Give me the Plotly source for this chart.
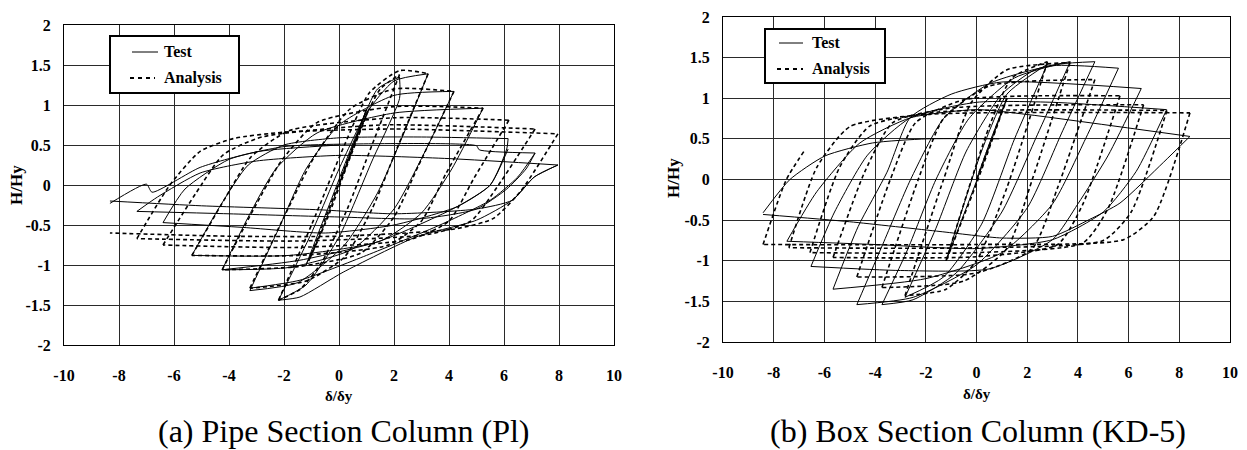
import plotly.graph_objects as go

# ---------------- tick labels ----------------
X_TICKS = [-10, -8, -6, -4, -2, 0, 2, 4, 6, 8, 10]
X_TICK_TEXT = ["-10", "-8", "-6", "-4", "-2", "0", "2", "4", "6", "8", "10"]
Y_TICKS = [-2, -1.5, -1, -0.5, 0, 0.5, 1, 1.5, 2]
Y_TICK_TEXT = ["-2", "-1.5", "-1", "-0.5", "0", "0.5", "1", "1.5", "2"]

# ---------------- (a) Pipe section column : Test (solid) ----------------
PIPE_TEST = [
    [(0, 0), (0.6, 0.55), (1.0, 0.95)],
    [(1.0, 0.95), (0.2, 0.2), (-0.6, -0.55), (-1.2, -1.0)],
    [(-1.2, -1.0), (-0.3, -0.2), (0.6, 0.6), (1.4, 1.2), (2.2, 1.35)],
    [(2.2, 1.35), (2.2, 1.08), (1.2, 0.3), (0.0, -0.65), (-1.2, -1.25), (-2.2, -1.44)],
    [(-2.2, -1.44), (-1.0, -0.6), (0.0, 0.2), (1.0, 0.9), (2.0, 1.3), (3.24, 1.39)],
    [(3.24, 1.39), (2.3, 0.6), (1.4, -0.1), (0.2, -0.75), (-1.5, -1.22), (-3.24, -1.32)],
    [(-3.24, -1.32), (-2.2, -0.55), (-1.2, 0.2), (0.0, 0.75), (2.0, 1.12), (4.18, 1.17)],
    [(4.18, 1.17), (3.1, 0.4), (2.0, -0.3), (0.5, -0.8), (-1.8, -1.03), (-4.25, -1.06)],
    [(-4.25, -1.06), (-3.3, -0.4), (-2.3, 0.2), (-0.8, 0.65), (2.0, 0.9), (5.24, 0.96)],
    [(5.24, 0.96), (4.1, 0.2), (3.0, -0.35), (1.5, -0.7), (-1.8, -0.88), (-5.35, -0.88)],
    [(-5.35, -0.88), (-4.3, -0.25), (-3.3, 0.25), (-2.0, 0.5), (0.0, 0.59), (3.0, 0.6), (6.15, 0.58)],
    [(6.15, 0.58), (6.1, 0.45), (5.5, 0.0), (4.3, -0.27), (2.0, -0.5), (-0.5, -0.6), (-3.5, -0.53), (-6.4, -0.47)],
    [(-6.4, -0.47), (-5.6, -0.05), (-4.0, 0.32), (-2.0, 0.48), (0.0, 0.51), (5.0, 0.49), (5.1, 0.44), (7.13, 0.40)],
    [(7.13, 0.40), (6.8, 0.2), (6.1, -0.05), (5.0, -0.3), (3.0, -0.42), (0.0, -0.4), (-4.0, -0.36), (-7.35, -0.33)],
    [(-7.35, -0.33), (-6.6, -0.15), (-5.05, 0.15), (-3.0, 0.3), (0.0, 0.37), (4.0, 0.33), (7.96, 0.25)],
    [(7.96, 0.25), (7.1, 0.1), (6.3, -0.19), (5.0, -0.3), (2.0, -0.36), (-0.7, -0.31), (-5.0, -0.26), (-8.33, -0.2)],
    [(-8.33, -0.23), (-7.0, 0.01), (-6.8, -0.09), (-5.05, 0.22), (-2.9, 0.42), (0.0, 0.5)],
    [(-2.2, -1.44), (-1.42, -1.4), (0.15, -1.09), (2.8, -0.65), (5.0, -0.44), (6.3, -0.19), (7.1, 0.1), (7.96, 0.25)],
    [(-3.24, -1.29), (-1.42, -1.19), (1.0, -0.88), (3.67, -0.5), (5.5, -0.19), (6.5, 0.1), (7.13, 0.40)],
    [(-4.25, -1.06), (-1.42, -0.94), (1.5, -0.7), (4.3, -0.27), (5.5, 0.0), (6.15, 0.45)],
]

# ---------------- (a) Pipe section column : Analysis (dashed) ----------------
PIPE_ANALYSIS = [
    [(0, 0), (0.5, 0.45), (1.05, 0.92)],
    [(1.05, 0.92), (0.3, 0.25), (-0.4, -0.4), (-1.1, -0.95)],
    [(-1.1, -0.95), (-0.2, -0.15), (0.7, 0.65), (1.5, 1.2), (2.2, 1.38)],
    [(2.2, 1.38), (1.2, 0.5), (0.3, -0.3), (-0.6, -0.95), (-1.4, -1.3), (-2.2, -1.44)],
    [(-2.2, -1.44), (-1.0, -0.5), (0.2, 0.5), (1.1, 1.15), (2.2, 1.43), (3.24, 1.39)],
    [(3.24, 1.39), (2.1, 0.45), (1.2, -0.3), (0.2, -0.9), (-1.2, -1.2), (-3.24, -1.29)],
    [(-3.24, -1.29), (-2.0, -0.4), (-0.9, 0.35), (0.4, 0.95), (2.0, 1.2), (4.18, 1.17)],
    [(4.18, 1.17), (2.9, 0.25), (2.0, -0.4), (0.8, -0.85), (-1.5, -1.02), (-4.25, -1.06)],
    [(-4.25, -1.06), (-3.1, -0.3), (-2.1, 0.3), (-0.8, 0.78), (2.0, 0.98), (5.24, 0.96)],
    [(5.24, 0.96), (3.9, 0.15), (3.0, -0.45), (1.8, -0.75), (-1.5, -0.88), (-5.35, -0.88)],
    [(-5.35, -0.88), (-4.2, -0.2), (-3.2, 0.35), (-1.8, 0.68), (2.0, 0.84), (6.18, 0.81)],
    [(6.18, 0.81), (4.9, 0.08), (4.0, -0.45), (2.6, -0.68), (-1.5, -0.78), (-6.4, -0.75)],
    [(-6.4, -0.75), (-5.2, -0.1), (-4.2, 0.38), (-2.8, 0.6), (1.5, 0.75), (7.13, 0.70)],
    [(7.13, 0.70), (5.8, 0.0), (4.8, -0.45), (3.2, -0.62), (-1.5, -0.7), (-7.35, -0.67)],
    [(-7.35, -0.67), (-6.15, 0.0), (-5.05, 0.42), (-3.85, 0.58), (-2.0, 0.66), (2.0, 0.70), (7.96, 0.64)],
    [(7.96, 0.64), (6.6, -0.08), (5.6, -0.42), (4.2, -0.55), (0.0, -0.64), (-4.0, -0.64), (-8.33, -0.60)],
]

# ---------------- (b) Box section column : Test (solid) ----------------
BOX_TEST = [
    [(0, 0), (0.6, 0.52), (1.2, 1.0)],
    [(1.2, 1.0), (0.0, -0.02), (-1.2, -1.0)],
    [(-1.2, -1.0), (0.2, 0.35), (1.2, 1.05), (2.8, 1.42)],
    [(2.8, 1.42), (1.5, 0.5), (0.2, -0.55), (-1.3, -1.2), (-2.82, -1.45)],
    [(-2.82, -1.45), (-1.6, -0.6), (-0.4, 0.35), (1.0, 1.05), (2.3, 1.35), (3.7, 1.45)],
    [(3.7, 1.45), (2.4, 0.55), (1.0, -0.4), (-0.8, -1.15), (-2.5, -1.48), (-3.73, -1.54)],
    [(-3.73, -1.54), (-2.7, -0.85), (-1.6, 0.0), (-0.3, 0.75), (1.5, 1.25), (3.3, 1.42), (4.67, 1.45)],
    [(4.67, 1.45), (3.4, 0.6), (2.0, -0.35), (0.0, -1.05), (-2.5, -1.45), (-4.72, -1.54)],
    [(-4.72, -1.54), (-3.7, -0.8), (-2.6, 0.0), (-1.3, 0.75), (0.5, 1.18), (3.0, 1.4), (5.6, 1.37)],
    [(5.6, 1.37), (4.3, 0.5), (3.0, -0.3), (1.0, -0.9), (-2.0, -1.22), (-5.66, -1.35)],
    [(-5.66, -1.35), (-4.67, -0.58), (-3.53, 0.09), (-2.62, 0.76), (-1.0, 1.05), (1.0, 1.2), (6.5, 1.12)],
    [(6.5, 1.12), (5.2, 0.3), (4.0, -0.3), (3.0, -0.74), (0.5, -1.1), (-3.0, -1.12), (-6.53, -1.07)],
    [(-6.53, -1.07), (-5.6, -0.4), (-4.3, 0.3), (-2.6, 0.76), (0.0, 0.95), (3.0, 0.95), (7.5, 0.86)],
    [(7.5, 0.86), (6.3, 0.1), (5.0, -0.4), (3.0, -0.74), (0.0, -0.85), (-4.0, -0.8), (-7.48, -0.76)],
    [(-7.48, -0.76), (-6.3, -0.15), (-4.6, 0.45), (-2.6, 0.76), (0.0, 0.86), (2.0, 0.8), (8.42, 0.53)],
    [(8.42, 0.53), (7.37, 0.21), (5.66, -0.29), (4.47, -0.49), (3.0, -0.7), (1.0, -0.72), (-1.44, -0.64), (-5.0, -0.52), (-8.42, -0.43)],
    [(-8.42, -0.41), (-7.36, 0.0), (-5.98, 0.29), (-4.1, 0.45), (-1.97, 0.5), (0.9, 0.5)],
]

# ---------------- (b) Box section column : Analysis (dashed) ----------------
BOX_ANALYSIS = [
    [(0, 0), (0.6, 0.5), (1.2, 1.0)],
    [(1.2, 1.0), (0.0, -0.05), (-1.2, -1.0)],
    [(-1.2, -1.0), (0.5, 0.65), (1.4, 1.25), (2.8, 1.45)],
    [(2.8, 1.45), (1.2, -0.1), (0.0, -1.0), (-1.2, -1.35), (-2.82, -1.43)],
    [(-2.82, -1.43), (-1.3, 0.0), (-0.2, 0.95), (1.2, 1.35), (3.69, 1.44)],
    [(3.69, 1.44), (2.2, 0.0), (1.2, -0.85), (-0.5, -1.25), (-3.73, -1.33)],
    [(-3.73, -1.33), (-2.3, 0.0), (-1.3, 0.75), (0.5, 1.15), (4.67, 1.23)],
    [(4.67, 1.23), (3.2, -0.1), (2.2, -0.85), (0.0, -1.15), (-4.72, -1.2)],
    [(-4.72, -1.2), (-3.4, 0.0), (-2.4, 0.7), (-0.5, 0.98), (5.66, 1.03)],
    [(5.66, 1.03), (4.2, -0.3), (3.2, -0.8), (0.0, -0.95), (-5.66, -0.96)],
    [(-5.66, -0.96), (-4.4, 0.1), (-3.3, 0.7), (-1.0, 0.88), (6.59, 0.92)],
    [(6.59, 0.92), (5.2, -0.35), (4.2, -0.78), (0.0, -0.9), (-6.57, -0.90)],
    [(-6.57, -0.90), (-5.4, 0.15), (-4.2, 0.66), (-1.5, 0.83), (7.51, 0.85)],
    [(7.51, 0.85), (6.1, -0.4), (5.0, -0.75), (0.0, -0.84), (-7.4, -0.84)],
    [(-7.4, -0.84), (-6.3, 0.15), (-5.0, 0.65), (-2.0, 0.8), (8.42, 0.82)],
    [(8.42, 0.82), (7.0, -0.45), (5.8, -0.74), (0.0, -0.8), (-8.42, -0.80)],
    [(-8.42, -0.80), (-7.5, 0.0), (-6.8, 0.35)],
]


def flatten(branches):
    xs, ys = [], []
    for br in branches:
        for (x, y) in br:
            xs.append(x)
            ys.append(y)
        xs.append(None)
        ys.append(None)
    return xs, ys


# the page body adds an 8 px margin; size the figure so it fills the window exactly
OFF = 8
W, H = 1247 - OFF, 450 - OFF


def px(v):
    return (v - OFF) / W


def py(v):
    return 1 - (v - OFF) / H


SERIF = "'Liberation Serif', 'Times New Roman', Times, serif"

fig = go.Figure()

panels = [
    (PIPE_TEST, PIPE_ANALYSIS, "x", "y"),
    (BOX_TEST, BOX_ANALYSIS, "x2", "y2"),
]
for test, ana, xa, ya in panels:
    tx, ty = flatten(test)
    ax_, ay_ = flatten(ana)
    fig.add_trace(go.Scatter(x=tx, y=ty, mode="lines", xaxis=xa, yaxis=ya,
                             line=dict(color="black", width=1, shape="spline", smoothing=0.6),
                             connectgaps=False, showlegend=False, hoverinfo="skip"))
    fig.add_trace(go.Scatter(x=ax_, y=ay_, mode="lines", xaxis=xa, yaxis=ya,
                             line=dict(color="black", width=1.6, dash="4px,3px", shape="spline", smoothing=0.6),
                             connectgaps=False, showlegend=False, hoverinfo="skip"))

tickfont = dict(family=SERIF, size=16, color="black", weight="bold")
common_x = dict(range=[-10, 10], tickmode="array", tickvals=X_TICKS, ticktext=X_TICK_TEXT,
                showgrid=True, gridcolor="#2a2a2a", gridwidth=1, zeroline=False,
                showline=True, linecolor="black", linewidth=1, mirror=True, automargin=False,
                ticks="", tickfont=tickfont, ticklabelstandoff=16, fixedrange=True)
common_y = dict(range=[-2, 2], tickmode="array", tickvals=Y_TICKS, ticktext=Y_TICK_TEXT,
                showgrid=True, gridcolor="#2a2a2a", gridwidth=1, zeroline=False,
                showline=True, linecolor="black", linewidth=1, mirror=True, automargin=False,
                ticks="", tickfont=tickfont, ticklabelstandoff=9, fixedrange=True)

fig.update_layout(
    width=W, height=H, autosize=False,
    margin=dict(l=0, r=0, t=0, b=0, pad=0),
    paper_bgcolor="white", plot_bgcolor="white",
    xaxis=dict(domain=[px(64), px(614)], anchor="y", **common_x),
    yaxis=dict(domain=[py(345), py(25)], anchor="x", **common_y),
    xaxis2=dict(domain=[px(723), px(1230)], anchor="y2", **common_x),
    yaxis2=dict(domain=[py(342), py(17)], anchor="x2", **common_y),
)

ann = []
shapes = []
bold = dict(family=SERIF, size=17, color="black", weight="bold")
bold15 = dict(family=SERIF, size=15, color="black", weight="bold")
cap = dict(family=SERIF, size=32, color="black")
legfont = dict(family=SERIF, size=16, color="black", weight="bold")

# axis titles and captions
for (yx, yy, xx, xy, cx, cy, caption) in [
    (16, 185, 339, 396, 344, 431, "(a) Pipe Section Column (Pl)"),
    (674, 178, 977, 394, 978, 431, "(b) Box Section Column (KD-5)"),
]:
    ann.append(dict(text="H/Hy", x=px(yx), y=py(yy), xref="paper", yref="paper",
                    showarrow=False, textangle=-90, font=bold, xanchor="center", yanchor="middle"))
    ann.append(dict(text="δ/δy", x=px(xx), y=py(xy), xref="paper", yref="paper",
                    showarrow=False, font=bold15, xanchor="center", yanchor="middle"))
    ann.append(dict(text=caption, x=px(cx), y=py(cy), xref="paper", yref="paper",
                    showarrow=False, font=cap, xanchor="center", yanchor="middle"))

# legends
for (bx0, by0, bx1, by1, l1a, l1b, r1, l2a, l2b, r2, tx) in [
    (110, 36, 239, 93, 132, 158, 52, 130, 155, 78, 162),
    (765, 29, 885, 83, 779, 803, 43, 777, 803, 69, 810),
]:
    shapes.append(dict(type="rect", xref="paper", yref="paper", x0=px(bx0), y0=py(by0),
                       x1=px(bx1), y1=py(by1), line=dict(color="black", width=2), fillcolor="white"))
    shapes.append(dict(type="line", xref="paper", yref="paper", x0=px(l1a), y0=py(r1),
                       x1=px(l1b), y1=py(r1), line=dict(color="black", width=1)))
    shapes.append(dict(type="line", xref="paper", yref="paper", x0=px(l2a), y0=py(r2),
                       x1=px(l2b), y1=py(r2), line=dict(color="black", width=2, dash="4px,4px")))
    ann.append(dict(text="Test", x=px(tx), y=py(r1), xref="paper", yref="paper",
                    showarrow=False, font=legfont, xanchor="left", yanchor="middle"))
    ann.append(dict(text="Analysis", x=px(tx), y=py(r2), xref="paper", yref="paper",
                    showarrow=False, font=legfont, xanchor="left", yanchor="middle"))

fig.update_layout(annotations=ann, shapes=shapes)
fig.write_html("out.html")
